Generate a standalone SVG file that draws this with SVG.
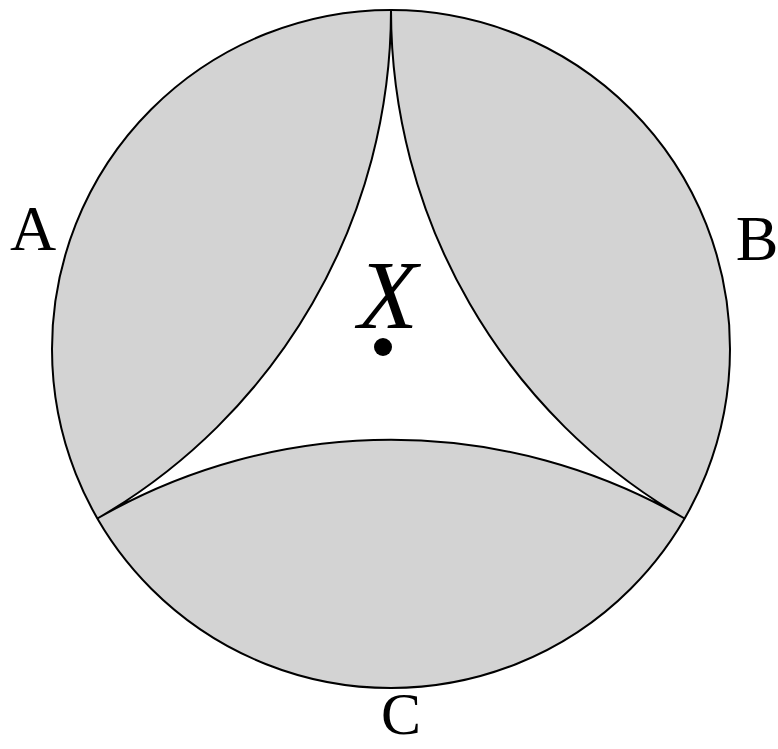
<svg xmlns="http://www.w3.org/2000/svg" width="778" height="749" viewBox="0 0 778 749">
<style>
text{font-family:"Liberation Serif","Times New Roman","DejaVu Serif",serif;fill:#000;text-anchor:middle}
.l{font-size:64px}
.c{font-size:60px}
.x{font-size:98px;font-style:italic}
</style>
<rect width="778" height="749" fill="#fff"/>
<g id="disk">
<circle cx="391" cy="349" r="339" fill="#d3d3d3" stroke="#000" stroke-width="2"/>
</g>
<g id="connectors">
<path d="M391,10 A587,587 0 0 0 684.6,518.5 A587,587 0 0 0 97.4,518.5 A587,587 0 0 0 391,10 Z" fill="#fff" stroke="#000" stroke-width="2"/>
</g>
<g id="X">
<text class="x" x="388" y="328">X</text>
<circle cx="383" cy="347" r="9" fill="#000"/>
</g>
<g id="A"><text class="l" x="33" y="250">A</text></g>
<g id="B"><text class="l" x="757" y="260">B</text></g>
<g id="C"><text class="c" x="401" y="734">C</text></g>
</svg>
